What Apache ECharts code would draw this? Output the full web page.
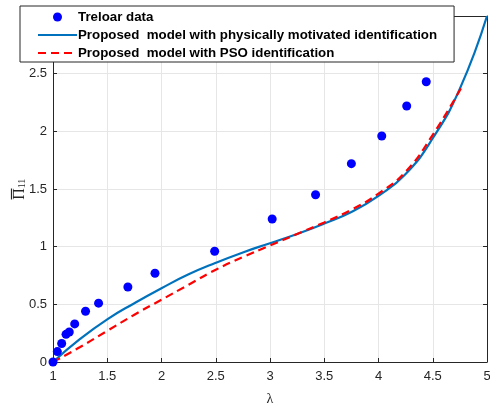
<!DOCTYPE html>
<html>
<head>
<meta charset="utf-8">
<script src="https://cdn.jsdelivr.net/npm/echarts@6/dist/echarts.min.js"></script>
<style>
  html, body { margin: 0; padding: 0; background: #fff; }
  #chart { width: 490px; height: 403px; }
</style>
</head>
<body>
<div id="chart"></div>
<script>
// Treloar data (lambda, Pi11)
var treloarX = [1, 1.04, 1.08, 1.12, 1.15, 1.2, 1.3, 1.42, 1.69, 1.94, 2.49, 3.02, 3.42, 3.75, 4.03, 4.26, 4.44];
var treloarY = [0, 0.09, 0.16, 0.24, 0.26, 0.33, 0.44, 0.51, 0.65, 0.77, 0.96, 1.24, 1.45, 1.72, 1.96, 2.22, 2.43];

// model curves
var physX = [1, 1.25, 1.5, 1.75, 2, 2.25, 2.5, 2.75, 3, 3.25, 3.5, 3.75, 4, 4.25, 4.5, 4.75, 5];
var physY = [0, 0.2, 0.37, 0.51, 0.64, 0.76, 0.86, 0.95, 1.03, 1.11, 1.2, 1.3, 1.44, 1.63, 1.94, 2.37, 3.0];
var psoX = [1, 1.25, 1.5, 1.75, 2, 2.25, 2.5, 2.75, 3, 3.25, 3.5, 3.75, 4, 4.25, 4.5, 4.77];
var psoY = [0, 0.13, 0.27, 0.41, 0.54, 0.67, 0.8, 0.91, 1.01, 1.11, 1.21, 1.32, 1.46, 1.65, 1.97, 2.39];

var xTicks = [1, 1.5, 2, 2.5, 3, 3.5, 4, 4.5, 5];
var yTicks = [0, 0.5, 1, 1.5, 2, 2.5, 3];

var legendNames = [
  'Treloar data',
  'Proposed  model with physically motivated identification',
  'Proposed  model with PSO identification'
];

function zip(xs, ys) {
  return xs.map(function (x, i) { return [x, ys[i]]; });
}

var chart = echarts.init(document.getElementById('chart'), null, { renderer: 'canvas' });

var axisColor = '#262626';
var gridColor = '#e6e6e6';
var fontFamily = '"Liberation Sans", Arial, sans-serif';
var serifFamily = '"Liberation Serif", "DejaVu Serif", serif';

function baseX(pos, showLabels) {
  return {
    type: 'value',
    position: pos,
    min: xTicks[0],
    max: xTicks[xTicks.length - 1],
    interval: 0.5,
    axisLine: { show: true, onZero: false, lineStyle: { color: axisColor, width: 1 } },
    axisTick: { show: true, inside: true, length: 4, lineStyle: { color: axisColor } },
    axisLabel: {
      show: showLabels, color: axisColor, fontSize: 13, fontFamily: fontFamily, margin: 8,
      formatter: function (v) { return String(v); }
    },
    splitLine: { show: showLabels, lineStyle: { color: gridColor, width: 1 } }
  };
}

function baseY(pos, showLabels) {
  return {
    type: 'value',
    position: pos,
    min: yTicks[0],
    max: yTicks[yTicks.length - 1],
    interval: 0.5,
    axisLine: { show: true, onZero: false, lineStyle: { color: axisColor, width: 1 } },
    axisTick: { show: true, inside: true, length: 4, lineStyle: { color: axisColor } },
    axisLabel: {
      show: showLabels, color: axisColor, fontSize: 13, fontFamily: fontFamily, margin: 6,
      formatter: function (v) { return String(v); }
    },
    splitLine: { show: showLabels, lineStyle: { color: gridColor, width: 1 } }
  };
}

var xMain = baseX('bottom', true);
xMain.name = 'λ';
xMain.nameLocation = 'middle';
xMain.nameGap = 30;
xMain.nameMoveOverlap = false;
xMain.nameTextStyle = { color: axisColor, fontSize: 14, fontFamily: serifFamily };

// Pi with a bar on top and subscript 11; first line is the bar
var yMain = baseY('left', true);
yMain.name = '{o| }{h| }\n{a|\u03A0}{b|11}';
yMain.nameLocation = 'middle';
yMain.nameGap = 29;
yMain.nameRotate = 90;
yMain.nameMoveOverlap = false;
yMain.nameTextStyle = {
  color: axisColor,
  fontFamily: serifFamily,
  rich: {
    o: { width: 11, height: 1.2, lineHeight: 1, backgroundColor: axisColor },
    h: { width: 10, lineHeight: 1 },
    a: { width: 11, align: 'center', fontSize: 16, lineHeight: 12, verticalAlign: 'top', color: axisColor, fontFamily: serifFamily },
    b: { width: 10, fontSize: 10, lineHeight: 10, padding: [5, 0, 0, 0], verticalAlign: 'top', color: axisColor, fontFamily: serifFamily }
  }
};

var option = {
  animation: false,
  backgroundColor: '#ffffff',
  grid: { left: 53, right: 3, top: 16, bottom: 41, containLabel: false, outerBoundsMode: 'none' },
  legend: {
    orient: 'vertical',
    left: 20,
    top: 6,
    padding: [3, 17, 1, 17],
    itemGap: 2,
    itemWidth: 39,
    itemHeight: 9,
    backgroundColor: '#ffffff',
    borderColor: axisColor,
    borderWidth: 1,
    borderRadius: 0,
    textStyle: { color: '#000', fontSize: 13.3, lineHeight: 16, fontWeight: 'bold', fontFamily: fontFamily, padding: [0, 0, 0, -4] },
    data: [
      { name: legendNames[0] },
      { name: legendNames[1], itemStyle: { opacity: 0 } },
      { name: legendNames[2], itemStyle: { opacity: 0 } }
    ],
    z: 10
  },
  xAxis: [xMain, baseX('top', false)],
  yAxis: [yMain, baseY('right', false)],
  series: [
    {
      name: legendNames[0],
      type: 'scatter',
      data: zip(treloarX, treloarY),
      symbol: 'circle',
      symbolSize: 9,
      itemStyle: { color: '#0000ff', opacity: 1 },
      z: 5
    },
    {
      name: legendNames[1],
      type: 'line',
      data: zip(physX, physY),
      smooth: 0.5,
      symbol: 'none',
      lineStyle: { color: '#0072bd', width: 2.2 },
      itemStyle: { color: '#0072bd' },
      z: 3
    },
    {
      name: legendNames[2],
      type: 'line',
      data: zip(psoX, psoY),
      smooth: 0.5,
      symbol: 'none',
      lineStyle: { color: '#ff0000', width: 2.2, type: [8, 5] },
      itemStyle: { color: '#ff0000' },
      z: 4
    }
  ]
};

chart.setOption(option);
</script>
</body>
</html>
